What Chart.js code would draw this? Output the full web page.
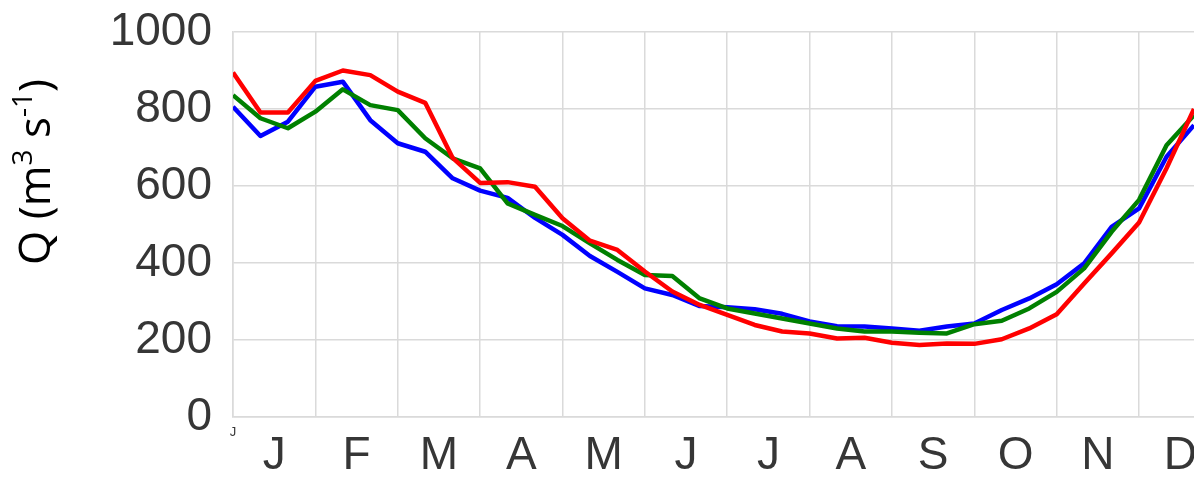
<!DOCTYPE html>
<html>
<head>
<meta charset="utf-8">
<script src="https://cdn.jsdelivr.net/npm/chart.js@4/dist/chart.umd.min.js"></script>
<style>
  html, body { margin: 0; padding: 0; background: #fff; }
  canvas { display: block; }
</style>
</head>
<body>
<canvas id="flow" width="1194" height="480"></canvas>
<script>
// Month initials, centred in each month column
const months = ['J', 'F', 'M', 'A', 'M', 'J', 'J', 'A', 'S', 'O', 'N', 'D'];
// Ten-day periods (three per month) along the year
const dekads = [0, 1, 2, 3, 4, 5, 6, 7, 8, 9, 10, 11, 12, 13, 14, 15, 16, 17,
                18, 19, 20, 21, 22, 23, 24, 25, 26, 27, 28, 29, 30, 31, 32, 33, 34, 35];
// Discharge Q (m3 s-1) per dekad
const redQ = [895, 791, 791, 873, 900, 888, 845, 816, 673, 608, 610, 598,
              516, 458, 434, 378, 326, 291, 265, 239, 222, 217, 204, 206,
              193, 187, 191, 190, 202, 230, 267, 347, 425, 505, 646, 800];
const blueQ = [806, 730, 767, 858, 871, 771, 711, 689, 620, 588, 569, 517,
               473, 418, 377, 334, 317, 288, 285, 280, 268, 248, 236, 235,
               230, 224, 235, 243, 278, 308, 345, 399, 494, 542, 676, 758];
const greenQ = [836, 776, 750, 793, 851, 810, 797, 724, 672, 646, 555, 525,
                496, 451, 408, 369, 366, 308, 282, 269, 256, 243, 230, 222,
                222, 219, 217, 241, 250, 282, 325, 386, 481, 564, 706, 784];
const yTicks = [0, 200, 400, 600, 800, 1000];

const gridGrey = '#dadada';
const textGrey = '#363636';

const toPoints = vals => vals.map((v, i) => ({ x: dekads[i], y: v }));

// Rotated axis title with superscript exponents
const yTitle = {
  id: 'yTitle',
  afterDraw(chart) {
    const ctx = chart.ctx;
    const big = '44px "Open Sans"';
    const small = '28px "Open Sans"';
    const parts = [
      { t: 'Q (m', f: big, dy: 0 },
      { t: '3', f: small, dy: -18 },
      { t: ' s', f: big, dy: 0 },
      { t: '-1', f: small, dy: -18 },
      { t: ')', f: big, dy: 0 }
    ];
    ctx.save();
    let total = 0;
    parts.forEach(p => { ctx.font = p.f; p.w = ctx.measureText(p.t).width; total += p.w; });
    ctx.translate(50, 172);
    ctx.rotate(-Math.PI / 2);
    ctx.fillStyle = '#000';
    ctx.textBaseline = 'alphabetic';
    ctx.textAlign = 'left';
    let x = -total / 2;
    parts.forEach(p => { ctx.font = p.f; ctx.fillText(p.t, x, p.dy); x += p.w; });
    ctx.restore();
  }
};

new Chart(document.getElementById('flow'), {
  type: 'line',
  data: {
    datasets: [
      { data: toPoints(redQ), borderColor: '#ff0000', order: 0 },
      { data: toPoints(greenQ), borderColor: '#008000', order: 1 },
      { data: toPoints(blueQ), borderColor: '#0000ff', order: 2 }
    ]
  },
  options: {
    responsive: false,
    animation: false,
    devicePixelRatio: 1,
    layout: { padding: { top: 32, right: 0, bottom: 0, left: 0 } },
    elements: {
      line: { borderWidth: 4.5, tension: 0, fill: false, borderJoinStyle: 'round' },
      point: { radius: 0 }
    },
    plugins: { legend: { display: false }, tooltip: { enabled: false } },
    scales: {
      x: {
        type: 'linear',
        min: dekads[0],
        max: dekads[dekads.length - 1],
        afterBuildTicks(scale) {
          const ticks = [];
          months.forEach((m, k) => {
            ticks.push({ value: k * 3 });
            ticks.push({ value: k * 3 + 1.5 });
          });
          scale.ticks = ticks;
        },
        afterFit(scale) {
          scale.height = 63;
          scale.paddingLeft = 0;
          scale.paddingRight = 0;
        },
        grid: {
          drawTicks: false,
          lineWidth: 1.5,
          color: ctx => (ctx.tick && ctx.tick.value % 3 === 0) ? gridGrey : 'rgba(0,0,0,0)'
        },
        border: { color: gridGrey, width: 1.5 },
        ticks: {
          autoSkip: false,
          maxRotation: 0,
          padding: 12,
          color: textGrey,
          font: ctx => (ctx.tick && ctx.tick.value === 0)
            ? { family: '"Liberation Sans"', size: 13, lineHeight: 0.6 }
            : { family: '"Liberation Sans"', size: 46 },
          callback: value => {
            if (value % 3 === 0) return value === 0 ? months[0] : '';
            return months[(value - 1.5) / 3];
          }
        }
      },
      y: {
        min: yTicks[0],
        max: yTicks[yTicks.length - 1],
        afterBuildTicks(scale) {
          scale.ticks = yTicks.map(v => ({ value: v }));
        },
        afterFit(scale) {
          scale.width = 233;
          scale.paddingTop = 0;
          scale.paddingBottom = 0;
        },
        grid: { drawTicks: false, color: gridGrey, lineWidth: 1.5 },
        border: { color: gridGrey, width: 1.5 },
        ticks: {
          padding: 21,
          color: textGrey,
          font: { family: '"Liberation Sans"', size: 46 },
          callback: value => String(value)
        }
      }
    }
  },
  plugins: [yTitle]
});
</script>
</body>
</html>
